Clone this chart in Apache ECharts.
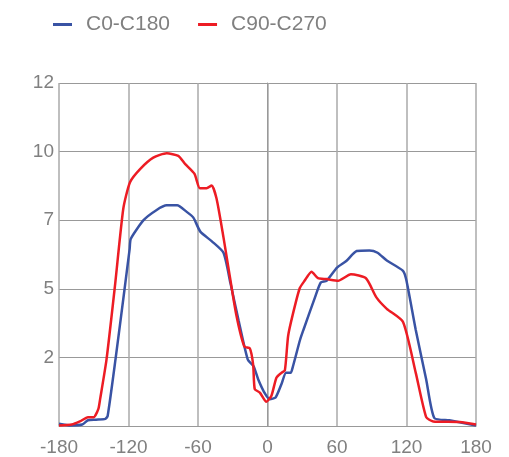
<!DOCTYPE html>
<html>
<head>
<meta charset="utf-8">
<script src="https://cdn.jsdelivr.net/npm/echarts@6/dist/echarts.min.js"></script>
<style>html,body{margin:0;padding:0;background:#fff}#c{width:509px;height:457px}</style>
</head>
<body>
<div id="c"></div>
<script>
const seriesNames = ['C0-C180', 'C90-C270'];
const xTicks = [-180, -120, -60, 0, 60, 120, 180];
const yTickValues = [0, 2.4, 4.8, 7.2, 9.6, 12];

const blueAngles = [-180,-170,-160,-155,-148,-140,-138,-131,-124,-119,-118,-107,-96,-87,-78,-70,-64,-58,-48,-38,-32,-25,-17,-12,-8,-2,2,7,12,16,20,22,28,31,41,46,51,60,68,77,88,95,103,117,120,128,137,144,157,180];
const blueValues = [0.08,0.02,0.05,0.2,0.22,0.25,0.35,2.4,4.6,6.2,6.55,7.2,7.55,7.72,7.72,7.5,7.29,6.8,6.46,6.06,5.0,3.7,2.32,2.09,1.63,1.12,0.94,1.0,1.46,1.86,1.86,2.09,3.0,3.36,4.5,5.02,5.08,5.54,5.77,6.12,6.14,6.06,5.79,5.43,5.08,3.36,1.63,0.28,0.2,0.02];

const redAngles = [-180,-169,-162,-155,-150,-146,-144.5,-139,-131.5,-124.5,-118.7,-110,-98.6,-87,-77,-71,-63,-58.4,-52.6,-48.3,-44,-38,-34,-27,-20,-15.3,-12.4,-11,-6.6,-1,3.4,7.7,12,15,17.8,22,27.8,32,38,43.6,51,61,72,85,94,103,117,128,137,143,166,180];
const redValues = [0.02,0.05,0.16,0.31,0.31,0.6,0.94,2.32,4.97,7.6,8.53,8.99,9.39,9.54,9.45,9.16,8.82,8.32,8.32,8.41,7.96,6.6,5.6,3.9,2.78,2.72,2.15,1.29,1.17,0.85,1.06,1.69,1.86,1.95,3.15,3.93,4.82,5.08,5.4,5.17,5.14,5.08,5.31,5.17,4.5,4.1,3.64,1.86,0.31,0.16,0.14,0.05];

const pair = (xs, ys) => xs.map((x, i) => [x, ys[i]]);
const grey = '#808080';
const chart = echarts.init(document.getElementById('c'), null, {renderer: 'canvas'});
chart.setOption({
  animation: false,
  color: ['#3953a4', '#ed1c24'],
  legend: {
    top: 9, left: 48,
    icon: 'rect', itemWidth: 19, itemHeight: 3, itemGap: 28,
    textStyle: {color: grey, fontSize: 21, fontFamily: 'Liberation Sans, Arial, sans-serif', padding: [0, 0, 0, 9]},
    data: seriesNames
  },
  grid: {left: 59, right: 33, top: 83, bottom: 26, containLabel: false},
  xAxis: {
    type: 'value', min: -180, max: 180, interval: 60,
    axisLine: {show: true, lineStyle: {color: '#999', width: 1}},
    axisTick: {show: false},
    splitLine: {show: true, lineStyle: {color: '#aaa', width: 1.5}},
    axisLabel: {color: grey, fontSize: 19, fontFamily: 'Liberation Sans, Arial, sans-serif', margin: 12,
      formatter: v => xTicks.includes(v) ? String(v) : ''}
  },
  yAxis: {
    type: 'value', min: 0, max: 12, interval: 2.4,
    axisLine: {show: true, lineStyle: {color: '#999', width: 1}},
    axisTick: {show: false},
    splitLine: {show: true, lineStyle: {color: '#999', width: 1}},
    axisLabel: {color: grey, fontSize: 19, fontFamily: 'Liberation Sans, Arial, sans-serif', margin: 5,
      formatter: v => (v === 0 ? '' : String(Math.round(v)))}
  },
  series: [
    {name: seriesNames[0], type: 'line', data: pair(blueAngles, blueValues), showSymbol: false, smooth: 0.2,
      lineStyle: {width: 2.5}},
    {name: seriesNames[1], type: 'line', data: pair(redAngles, redValues), showSymbol: false, smooth: 0.2,
      lineStyle: {width: 2.5}}
  ]
});
</script>
</body>
</html>
